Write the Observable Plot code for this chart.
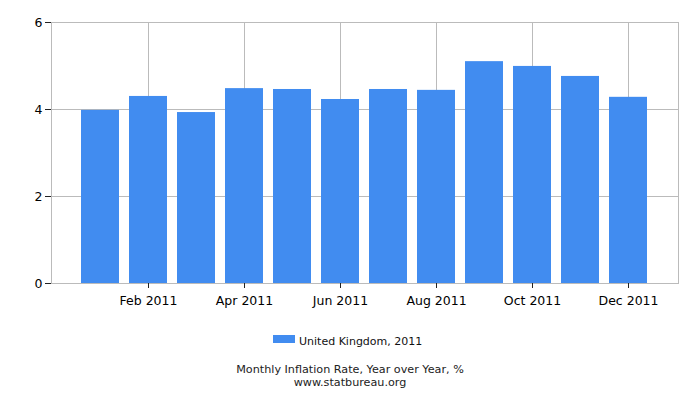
<!DOCTYPE html>
<html><head><meta charset="utf-8">
<script src="https://cdn.jsdelivr.net/npm/d3@7"></script>
<script src="https://cdn.jsdelivr.net/npm/@observablehq/plot@0.6"></script>
<style>
body{margin:0;background:#fff;font-family:"DejaVu Sans",sans-serif;}
#wrap{width:700px;height:400px;position:relative;overflow:hidden;}
#chart{position:absolute;left:0;top:0;}
.sw{position:absolute;left:273px;top:335px;width:22px;height:8px;}
.lg{position:absolute;left:299px;top:335px;font-size:11px;line-height:14px;color:#111;white-space:nowrap;}
.cap{position:absolute;left:0;width:700px;text-align:center;font-size:11.2px;line-height:12px;color:#222;}
</style></head><body><div id="wrap"><div id="chart"></div></div>
<script>
const months = ["Jan 2011","Feb 2011","Mar 2011","Apr 2011","May 2011","Jun 2011","Jul 2011","Aug 2011","Sep 2011","Oct 2011","Nov 2011","Dec 2011"];
const rates = [3.98, 4.30, 3.93, 4.48, 4.46, 4.23, 4.46, 4.44, 5.10, 4.99, 4.76, 4.28];
const xTicks = ["Feb 2011","Apr 2011","Jun 2011","Aug 2011","Oct 2011","Dec 2011"];
const yTicks = [0, 2, 4, 6];
const seriesName = "United Kingdom, 2011";
const titleText = "Monthly Inflation Rate, Year over Year, %";
const sourceText = "www.statbureau.org";
const barColor = "#418cf0";

const data = months.map((m, i) => ({month: m, rate: rates[i]}));

const chart = Plot.plot({
  width: 700, height: 310,
  marginTop: 22, marginLeft: 51, marginRight: 22, marginBottom: 27,
  style: {fontFamily: "DejaVu Sans", fontSize: "12.5px", color: "#000", background: "#fff"},
  x: {domain: months, paddingInner: 0.2, paddingOuter: 0.6, label: null},
  y: {domain: [0, 6], label: null},
  marks: [
    Plot.gridX(xTicks, {stroke: "#bbb", strokeOpacity: 1}),
    Plot.gridY(yTicks, {stroke: "#bbb", strokeOpacity: 1}),
    Plot.barY(data, {x: "month", y: "rate", fill: barColor}),
    Plot.frame({stroke: "#bbb"}),
    Plot.axisX({ticks: xTicks, tickSize: 5, tickPadding: 8, stroke: "#222", label: null}),
    Plot.axisY({ticks: yTicks, tickSize: 6, tickPadding: 3, stroke: "#222", tickFormat: "d", label: null})
  ]
});
document.getElementById("chart").appendChild(chart);

const wrap = document.getElementById("wrap");
const sw = document.createElement("div"); sw.className = "sw"; sw.style.background = barColor; wrap.appendChild(sw);
const lg = document.createElement("div"); lg.className = "lg"; lg.textContent = seriesName; wrap.appendChild(lg);
const c1 = document.createElement("div"); c1.className = "cap"; c1.style.top = "364px"; c1.textContent = titleText; wrap.appendChild(c1);
const c2 = document.createElement("div"); c2.className = "cap"; c2.style.top = "377px"; c2.textContent = sourceText; wrap.appendChild(c2);
</script>
</body></html>
